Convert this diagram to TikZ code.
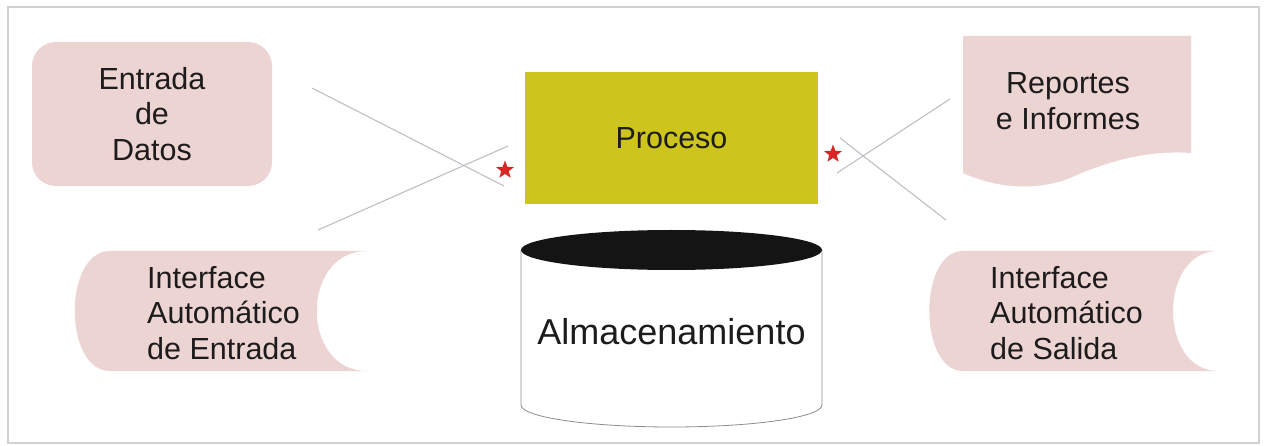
\documentclass[tikz,border=0pt]{standalone}
\usepackage{fontspec}
\setmainfont{Liberation Sans}
\usetikzlibrary{shapes.geometric}
\definecolor{boxpink}{RGB}{235,212,210}
\definecolor{procyellow}{RGB}{206,197,28}
\definecolor{inkgray}{RGB}{30,27,28}
\definecolor{wiregray}{RGB}{190,190,196}
\definecolor{starred}{RGB}{214,38,38}
\tikzset{
  label30/.style={text=inkgray, font=\fontsize{30.5}{35.5}\selectfont, inner sep=0pt},
  pinkfill/.style={fill=boxpink, draw=none},
  wire/.style={draw=wiregray, line width=1.1pt},
  redstar/.style={star, star points=5, star point ratio=2.4, fill=starred, draw=none, minimum size=19pt, inner sep=0pt}
}
\begin{document}
\begin{tikzpicture}[x=1pt,y=-1pt]
\useasboundingbox (0,0) rectangle (1264,446);
% outer frame
\draw[draw=black!18, line width=1.2pt] (8,7) rectangle (1259,443);

% data entry (rounded box)
\node[pinkfill, rounded corners=24pt, minimum width=240pt, minimum height=144pt, label30, align=center]
  (entrada) at (152,114) {Entrada\\de\\Datos};

% process box
\node[fill=procyellow, minimum width=293pt, minimum height=132pt, label30]
  (proceso) at (671.5,138) {Proceso};

% report document shape
\path[pinkfill] (963,36) -- (1191,36) -- (1191,153)
  .. controls (1150,150) and (1110,160) .. (1070,178)
  .. controls (1040,190) and (1000,190) .. (963,173) -- cycle;
\node[label30, align=center] (reportes) at (1068,101) {Reportes\\e Informes};

% automatic input interface (stored-data shape)
\path[pinkfill] (367,251) -- (110,251)
  .. controls (63,251) and (63,371) .. (110,371) -- (367,371)
  .. controls (300,371) and (300,251) .. (367,251) -- cycle;
\node[label30, align=left, anchor=west] (ientrada) at (147,313) {Interface\\Automático\\de Entrada};

% automatic output interface (stored-data shape)
\path[pinkfill] (1218,251) -- (963,251)
  .. controls (918,251) and (918,371) .. (963,371) -- (1218,371)
  .. controls (1158,371) and (1158,251) .. (1218,251) -- cycle;
\node[label30, align=left, anchor=west] (isalida) at (990,313) {Interface\\Automático\\de Salida};

% storage cylinder
\coordinate (cyl) at (671.5,250);
\path[fill=white, draw=black!45, line width=0.8pt]
  (521,250) -- (521,405) arc[start angle=180, end angle=360, x radius=150.5, y radius=-22] -- (822,250);
\fill[black!92] (cyl) ellipse[x radius=150.5, y radius=20];
\node[text=inkgray, font=\fontsize{36}{40}\selectfont, inner sep=0pt] (almac) at (671.5,332) {Almacenamiento};

% crossing wires on the input side
\coordinate (lw1a) at (312,88);
\coordinate (lw1b) at (504,186);
\coordinate (lw2a) at (318,230);
\coordinate (lw2b) at (508,146);
\draw[wire] (lw1a) -- (lw1b);
\draw[wire] (lw2a) -- (lw2b);

% crossing wires on the output side
\coordinate (rw1a) at (837,173);
\coordinate (rw1b) at (950,99);
\coordinate (rw2a) at (840,138);
\coordinate (rw2b) at (946,220);
\draw[wire] (rw1a) -- (rw1b);
\draw[wire] (rw2a) -- (rw2b);

% markers beside the process box
\node[redstar] (starin) at (505,170) {};
\node[redstar] (starout) at (833,154) {};
\end{tikzpicture}
\end{document}
